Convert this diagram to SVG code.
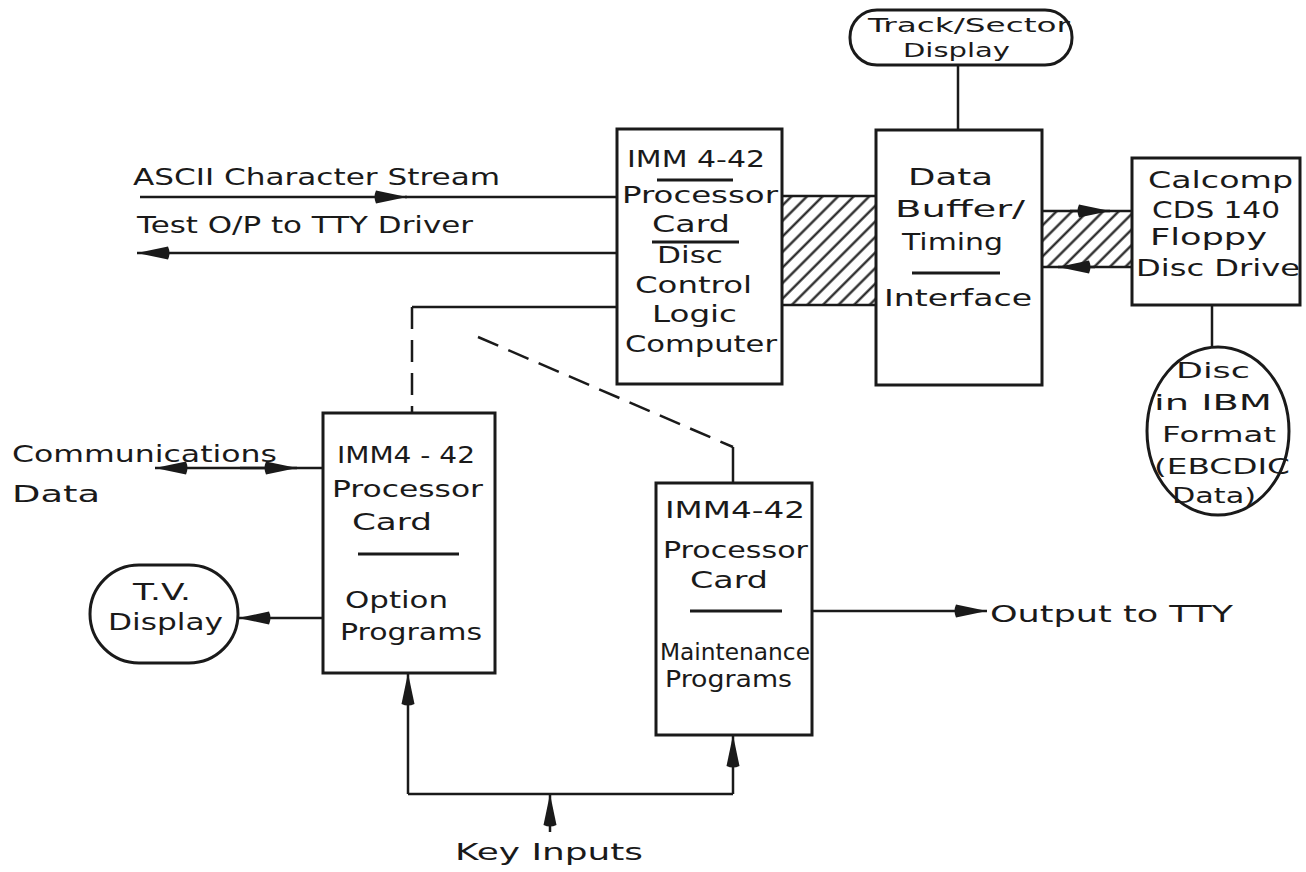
<svg xmlns="http://www.w3.org/2000/svg" width="1306" height="872" viewBox="0 0 1306 872">
<style>
.box{fill:#fff;stroke:#1a1a1a;stroke-width:3}
.ln{stroke:#1a1a1a;stroke-width:2.5;fill:none}
.sep{stroke:#1a1a1a;stroke-width:3}
.dash{stroke-dasharray:22 11}
.t{font-family:"DejaVu Sans","Liberation Sans",sans-serif;font-size:23px;fill:#1a1a1a}
.s{font-size:19px}
.m{font-size:21px}
</style>
<defs>
<marker id="arr" viewBox="0 0 34 14" refX="34" refY="7" markerWidth="34" markerHeight="14" markerUnits="userSpaceOnUse" orient="auto">
<path d="M3,0.5 Q0,7 3,13.5 L34,7 Z" fill="#1a1a1a"/>
</marker>
<pattern id="hatch" patternUnits="userSpaceOnUse" width="11" height="11" patternTransform="rotate(45)">
<line x1="5.5" y1="0" x2="5.5" y2="11" stroke="#1a1a1a" stroke-width="2.2"/>
</pattern>
</defs>
<rect width="1306" height="872" fill="#fff"/>

<g id="connectors">
<line class="ln" x1="958" y1="65" x2="958" y2="130"/>
<rect x="782" y="196" width="94" height="109" fill="url(#hatch)"/>
<line class="ln" x1="782" y1="196" x2="876" y2="196"/>
<line class="ln" x1="782" y1="305" x2="876" y2="305"/>
<rect x="1042" y="211" width="90" height="56" fill="url(#hatch)"/>
<line class="ln" x1="1042" y1="211" x2="1132" y2="211"/>
<line class="ln" x1="1042" y1="267" x2="1132" y2="267"/>
<path class="ln" d="M1070,211 H1110" marker-end="url(#arr)"/>
<path class="ln" d="M1095,267 H1058" marker-end="url(#arr)"/>
<line class="ln" x1="1212" y1="305" x2="1212" y2="347"/>
<path class="ln" d="M140,197 H407" marker-end="url(#arr)"/>
<line class="ln" x1="405" y1="197" x2="617" y2="197"/>
<path class="ln" d="M617,253 H137" marker-end="url(#arr)"/>
<path class="ln" d="M323,468 H155" marker-end="url(#arr)"/>
<path class="ln" d="M240,468 H297" marker-end="url(#arr)"/>
<path class="ln" d="M323,618 H238" marker-end="url(#arr)"/>
<path class="ln" d="M617,307 H412"/>
<path class="ln dash" d="M412,307 V413"/>
<path class="ln dash" d="M478,337 L733,447"/>
<path class="ln" d="M733,447 V483"/>
<path class="ln" d="M812,611 H987" marker-end="url(#arr)"/>
<path class="ln" d="M408,794 V673" marker-end="url(#arr)"/>
<path class="ln" d="M408,794 H733"/>
<path class="ln" d="M733,794 V735" marker-end="url(#arr)"/>
<path class="ln" d="M550,832 V794" marker-end="url(#arr)"/>
</g>

<g id="track">
<rect class="box" x="850" y="10" width="222" height="55" rx="27"/>
<text class="t s" x="868" y="32" textLength="202" lengthAdjust="spacingAndGlyphs">Track/Sector</text>
<text class="t s" x="903" y="57" textLength="107" lengthAdjust="spacingAndGlyphs">Display</text>
</g>

<g id="cpu">
<rect class="box" x="617" y="129" width="165" height="255"/>
<text class="t" x="627" y="167" textLength="138" lengthAdjust="spacingAndGlyphs">IMM 4-42</text>
<line class="sep" x1="657" y1="180" x2="733" y2="180"/>
<text class="t" x="622" y="203" textLength="156" lengthAdjust="spacingAndGlyphs">Processor</text>
<text class="t" x="652" y="232" textLength="78" lengthAdjust="spacingAndGlyphs">Card</text>
<line class="sep" x1="652" y1="242" x2="739" y2="242"/>
<text class="t" x="657" y="263" textLength="66" lengthAdjust="spacingAndGlyphs">Disc</text>
<text class="t" x="635" y="293" textLength="117" lengthAdjust="spacingAndGlyphs">Control</text>
<text class="t" x="652" y="322" textLength="85" lengthAdjust="spacingAndGlyphs">Logic</text>
<text class="t" x="625" y="352" textLength="152" lengthAdjust="spacingAndGlyphs">Computer</text>
</g>

<g id="buffer">
<rect class="box" x="876" y="130" width="166" height="255"/>
<text class="t" x="908" y="185" textLength="85" lengthAdjust="spacingAndGlyphs">Data</text>
<text class="t" x="895" y="217" textLength="130" lengthAdjust="spacingAndGlyphs">Buffer/</text>
<text class="t" x="902" y="250" textLength="101" lengthAdjust="spacingAndGlyphs">Timing</text>
<line class="sep" x1="912" y1="273" x2="1000" y2="273"/>
<text class="t" x="884" y="306" textLength="148" lengthAdjust="spacingAndGlyphs">Interface</text>
</g>

<g id="calcomp">
<rect class="box" x="1132" y="158" width="168" height="147"/>
<text class="t" x="1148" y="188" textLength="145" lengthAdjust="spacingAndGlyphs">Calcomp</text>
<text class="t" x="1152" y="218" textLength="128" lengthAdjust="spacingAndGlyphs">CDS 140</text>
<text class="t" x="1150" y="245" textLength="117" lengthAdjust="spacingAndGlyphs">Floppy</text>
<text class="t" x="1136" y="276" textLength="164" lengthAdjust="spacingAndGlyphs">Disc Drive</text>
</g>

<g id="disc">
<ellipse class="box" cx="1218" cy="431" rx="71" ry="84"/>
<text class="t m" x="1176" y="378" textLength="74" lengthAdjust="spacingAndGlyphs">Disc</text>
<text class="t m" x="1154" y="410" textLength="118" lengthAdjust="spacingAndGlyphs">in IBM</text>
<text class="t m" x="1162" y="442" textLength="114" lengthAdjust="spacingAndGlyphs">Format</text>
<text class="t m" x="1154" y="474" textLength="136" lengthAdjust="spacingAndGlyphs">(EBCDIC</text>
<text class="t m" x="1172" y="503" textLength="84" lengthAdjust="spacingAndGlyphs">Data)</text>
</g>

<g id="option">
<rect class="box" x="323" y="413" width="172" height="260"/>
<text class="t" x="337" y="463" textLength="138" lengthAdjust="spacingAndGlyphs">IMM4 - 42</text>
<text class="t" x="332" y="497" textLength="151" lengthAdjust="spacingAndGlyphs">Processor</text>
<text class="t" x="352" y="530" textLength="80" lengthAdjust="spacingAndGlyphs">Card</text>
<line class="sep" x1="358" y1="554" x2="459" y2="554"/>
<text class="t" x="345" y="608" textLength="103" lengthAdjust="spacingAndGlyphs">Option</text>
<text class="t" x="340" y="640" textLength="142" lengthAdjust="spacingAndGlyphs">Programs</text>
</g>

<g id="maint">
<rect class="box" x="656" y="483" width="156" height="252"/>
<text class="t" x="665" y="518" textLength="140" lengthAdjust="spacingAndGlyphs">IMM4-42</text>
<text class="t" x="663" y="558" textLength="145" lengthAdjust="spacingAndGlyphs">Processor</text>
<text class="t" x="690" y="588" textLength="78" lengthAdjust="spacingAndGlyphs">Card</text>
<line class="sep" x1="690" y1="611" x2="782" y2="611"/>
<text class="t" x="660" y="660" textLength="150" lengthAdjust="spacingAndGlyphs">Maintenance</text>
<text class="t" x="665" y="687" textLength="127" lengthAdjust="spacingAndGlyphs">Programs</text>
</g>

<g id="tv">
<rect class="box" x="90" y="565" width="148" height="98" rx="49"/>
<text class="t" x="133" y="600" textLength="58" lengthAdjust="spacingAndGlyphs">T.V.</text>
<text class="t" x="108" y="630" textLength="115" lengthAdjust="spacingAndGlyphs">Display</text>
</g>

<g id="labels">
<text class="t" x="133" y="185" textLength="367" lengthAdjust="spacingAndGlyphs">ASCII Character Stream</text>
<text class="t" x="137" y="233" textLength="336" lengthAdjust="spacingAndGlyphs">Test O/P  to TTY Driver</text>
<text class="t" x="12" y="462" textLength="265" lengthAdjust="spacingAndGlyphs">Communications</text>
<text class="t" x="12" y="502" textLength="88" lengthAdjust="spacingAndGlyphs">Data</text>
<text class="t" x="990" y="622" textLength="243" lengthAdjust="spacingAndGlyphs">Output to TTY</text>
<text class="t" x="455" y="860" textLength="188" lengthAdjust="spacingAndGlyphs">Key Inputs</text>
</g>
</svg>
